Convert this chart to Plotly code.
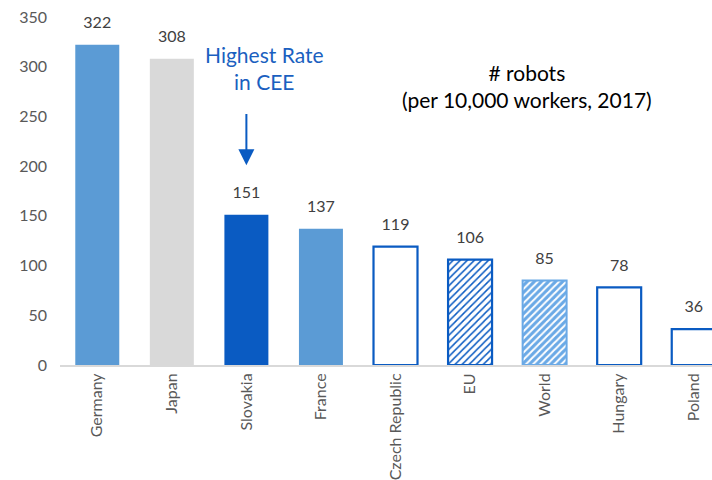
import plotly.graph_objects as go

categories = ["Germany", "Japan", "Slovakia", "France", "Czech Republic", "EU", "World", "Hungary", "Poland"]
robots = [322, 308, 151, 137, 119, 106, 85, 78, 36]
y_ticks = [0, 50, 100, 150, 200, 250, 300, 350]

MID = "#5b9bd5"
GREY = "#d9d9d9"
DARK = "#0a5bc2"
LIGHT = "#6aa9e6"
WHITE = "#ffffff"

# style group per bar: solid, outline, hatch_dark, hatch_light
styles = ["solid", "solid", "solid", "solid", "outline", "hatch_dark", "hatch_light", "outline", "outline"]
fill_colors = [MID, GREY, DARK, MID, WHITE, WHITE, LIGHT, WHITE, WHITE]

fig = go.Figure()


def subset(kind):
    idx = [i for i, s in enumerate(styles) if s == kind]
    return [categories[i] for i in idx], [robots[i] for i in idx], [fill_colors[i] for i in idx]


xs, ys, cs = subset("solid")
fig.add_trace(go.Bar(x=xs, y=ys, width=0.59, marker=dict(color=cs, line=dict(width=0)), hoverinfo="skip"))

xs, ys, cs = subset("outline")
fig.add_trace(go.Bar(x=xs, y=ys, width=0.59, marker=dict(color=WHITE, line=dict(color=DARK, width=2.2)),
                     hoverinfo="skip"))

xs, ys, cs = subset("hatch_dark")
fig.add_trace(go.Bar(x=xs, y=ys, width=0.59,
                     marker=dict(color=WHITE, line=dict(color=DARK, width=2.2),
                                 pattern=dict(shape="/", fgcolor=DARK, bgcolor=WHITE, size=5,
                                              solidity=0.3, fillmode="replace")),
                     hoverinfo="skip"))

xs, ys, cs = subset("hatch_light")
fig.add_trace(go.Bar(x=xs, y=ys, width=0.59,
                     marker=dict(color=LIGHT, line=dict(color=LIGHT, width=2),
                                 pattern=dict(shape="/", fgcolor=WHITE, bgcolor=LIGHT, size=5,
                                              solidity=0.4, fillmode="replace")),
                     hoverinfo="skip"))

fig.add_trace(go.Scatter(
    x=categories, y=[v + 21 for v in robots], mode="text",
    text=[str(v) for v in robots], textposition="middle center",
    textfont=dict(size=16, color="#404040", family="Lato"),
    cliponaxis=False, hoverinfo="skip",
))

fig.add_annotation(x=2, y=201, ax=2, ay=254, xref="x", yref="y", axref="x", ayref="y",
                   text="", showarrow=True, arrowhead=2, arrowsize=1.6, arrowwidth=2,
                   arrowcolor=DARK)
fig.add_annotation(xref="x", yref="y", x=2.24, y=299, text="Highest Rate<br>in CEE",
                   showarrow=False, font=dict(size=21, color="#1a5fc0", family="Lato"),
                   align="center")
fig.add_annotation(xref="x", yref="y", x=5.77, y=281, text="# robots<br>(per 10,000 workers, 2017)",
                   showarrow=False, font=dict(size=21, color="#000000", family="Lato"),
                   align="center")

fig.update_layout(
    width=712, height=480,
    margin=dict(l=60, r=0, t=17, b=115),
    plot_bgcolor="white", paper_bgcolor="white",
    showlegend=False,
    font=dict(family="Lato", color="#595959"),
    barmode="overlay",
)
fig.update_xaxes(
    range=[-0.5, 8.245], categoryorder="array", categoryarray=categories,
    showline=True, linecolor=GREY, linewidth=2,
    tickangle=-90, tickfont=dict(size=16, color="#595959"), ticks="", showgrid=False,
)
fig.update_yaxes(
    range=[0, 350], tickvals=y_ticks, showgrid=False, zeroline=False, showline=False,
    tickfont=dict(size=16, color="#595959"), ticks="", ticklen=0, ticklabelstandoff=12,
)

fig.write_html("out.html", config={"displayModeBar": False},
               post_script="document.body.style.margin='0';document.body.style.overflow='hidden';")
